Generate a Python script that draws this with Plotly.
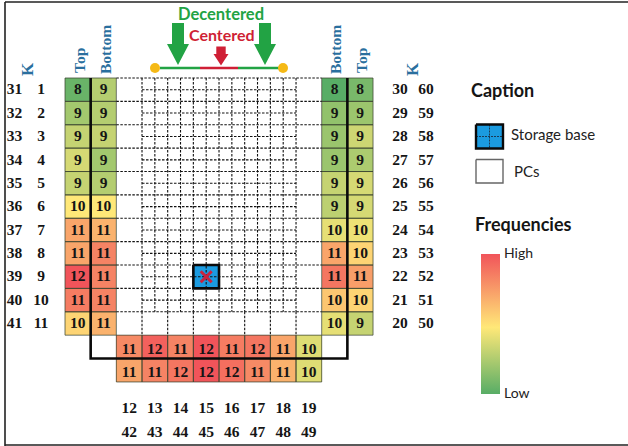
import plotly.graph_objects as go

# ---------- data ----------
top_left_labels = [8, 9, 9, 9, 9, 10, 11, 11, 12, 11, 10]
top_left_scores = [8.2, 8.9, 9.3, 9.5, 9.3, 10.0, 11.0, 11.0, 12.2, 11.6, 10.3]
bottom_left_labels = [9, 9, 9, 9, 9, 10, 11, 11, 11, 11, 11]
bottom_left_scores = [9.1, 9.1, 9.3, 8.9, 9.1, 10.0, 10.8, 11.5, 11.5, 11.5, 10.8]
bottom_right_labels = [8, 9, 9, 9, 9, 9, 10, 11, 11, 10, 10]
bottom_right_scores = [8.0, 8.7, 8.8, 8.8, 9.3, 9.2, 9.7, 11.0, 11.7, 10.5, 9.7]
top_right_labels = [8, 9, 9, 9, 9, 9, 10, 10, 11, 10, 9]
top_right_scores = [8.4, 8.8, 9.4, 9.0, 9.5, 9.5, 9.8, 10.3, 11.1, 10.3, 9.3]
front_upper_labels = [11, 12, 11, 12, 11, 12, 11, 10]
front_upper_scores = [11.4, 12.0, 11.5, 12.2, 11.6, 11.7, 11.0, 9.6]
front_lower_labels = [11, 11, 12, 12, 12, 11, 11, 10]
front_lower_scores = [11.0, 11.5, 11.7, 12.2, 11.8, 11.4, 10.8, 9.6]

k_left_outer = [31, 32, 33, 34, 35, 36, 37, 38, 39, 40, 41]
k_left_inner = [1, 2, 3, 4, 5, 6, 7, 8, 9, 10, 11]
k_right_inner = [30, 29, 28, 27, 26, 25, 24, 23, 22, 21, 20]
k_right_outer = [60, 59, 58, 57, 56, 55, 54, 53, 52, 51, 50]
k_front_upper = [12, 13, 14, 15, 16, 17, 18, 19]
k_front_lower = [42, 43, 44, 45, 46, 47, 48, 49]

# ---------- geometry (px) ----------
W, H = 628, 446
X0, CW, Y0, RH = 65.0, 25.67, 78.0, 23.38
cx = lambda c: X0 + CW * c
ry = lambda r: Y0 + RH * r
N_COLS, N_ROWS = 12, 13
SERIF = "Liberation Serif"
SANS = "Lato"
INK = "#151515"
BLUE = "#1b9be0"
GREEN = "#22a344"
RED = "#cf1f35"

z = [[None] * N_COLS for _ in range(N_ROWS)]
for col, scores in [(0, top_left_scores), (1, bottom_left_scores),
                    (10, bottom_right_scores), (11, top_right_scores)]:
    for r in range(11):
        z[r][col] = scores[r]
for row, scores in [(11, front_upper_scores), (12, front_lower_scores)]:
    for i in range(8):
        z[row][2 + i] = scores[i]

fig = go.Figure()


def segs(segments, color, width, dash="solid"):
    xs, ys = [], []
    for (x1, y1, x2, y2) in segments:
        xs += [x1, x2, None]
        ys += [y1, y2, None]
    fig.add_trace(go.Scatter(x=xs, y=ys, mode="lines", hoverinfo="skip",
                             line=dict(color=color, width=width, dash=dash)))


def poly(points, fill, line=None, width=0):
    xs = [p[0] for p in points] + [points[0][0]]
    ys = [p[1] for p in points] + [points[0][1]]
    fig.add_trace(go.Scatter(x=xs, y=ys, mode="lines", fill="toself", fillcolor=fill,
                             hoverinfo="skip",
                             line=dict(color=line or fill, width=width)))


def rect(x1, y1, x2, y2, fill, line=None, width=0):
    poly([(x1, y1), (x2, y1), (x2, y2), (x1, y2)], fill, line, width)


def labels(xs, ys, texts, size=15.5, color=INK, family=SERIF):
    fig.add_trace(go.Scatter(x=xs, y=ys, text=[str(v) for v in texts], mode="text",
                             hoverinfo="skip", textposition="middle center",
                             textfont=dict(family=family, size=size, color=color, weight="bold")))


def note(x, y, text, size, color=INK, family=SANS, bold=False, angle=0, anchor="center"):
    fig.add_annotation(x=x, y=y, text=f"<b>{text}</b>" if bold else text, showarrow=False,
                       textangle=angle, xanchor=anchor, yanchor="middle", borderpad=0,
                       font=dict(family=family, size=size, color=color))


# heat cells + legend scale
fig.add_trace(go.Heatmap(
    x=[cx(c + 0.5) for c in range(N_COLS)], y=[ry(r + 0.5) for r in range(N_ROWS)],
    z=z, hoverinfo="skip", hoverongaps=False, zmin=8.0, zmax=12.2,
    colorscale=[[0, "#58ad66"], [0.476, "#ffe878"], [1, "#f1545a"]],
    colorbar=dict(x=481 / W, xanchor="left", xpad=0, y=(H - 324) / H, yanchor="middle", ypad=0,
                  thickness=19, thicknessmode="pixels", len=140, lenmode="pixels",
                  outlinewidth=0, showticklabels=False, ticks=""),
))

# thin cell borders
cell_lines = []
for r in range(N_ROWS):
    for c in range(N_COLS):
        if z[r][c] is not None:
            cell_lines += [(cx(c), ry(r), cx(c + 1), ry(r)), (cx(c), ry(r + 1), cx(c + 1), ry(r + 1)),
                           (cx(c), ry(r), cx(c), ry(r + 1)), (cx(c + 1), ry(r), cx(c + 1), ry(r + 1))]
segs(cell_lines, "rgba(60,70,50,0.75)", 1)

# storage base fill under the grid
rect(cx(5), ry(8), cx(6), ry(9), BLUE)

# dashed shelf grid
full_h = [(cx(2), ry(r), cx(10), ry(r)) for r in range(11)]
half_h = [(cx(3), ry(r + 0.5), cx(9), ry(r + 0.5)) for r in range(10)]
half_v = [(cx(3 + i / 2), ry(0), cx(3 + i / 2), ry(10)) for i in range(13)]
full_v = [(cx(3 + i), ry(10), cx(3 + i), ry(11)) for i in range(7)]
segs(full_h + half_h + half_v + full_v, "#111111", 1.1, "2.5px,1.5px")

# storage base outline + marker
poly([(cx(5), ry(8)), (cx(6), ry(8)), (cx(6), ry(9)), (cx(5), ry(9))], "rgba(0,0,0,0)", "#0a0a0a", 2.6)
fig.add_trace(go.Scatter(x=[cx(5.5)], y=[ry(8.5)], mode="markers", hoverinfo="skip",
                         marker=dict(symbol="x-thin", size=11, line=dict(color="#c9243f", width=3))))

# thick divider
fig.add_trace(go.Scatter(x=[cx(1), cx(1), cx(11), cx(11)], y=[ry(0), ry(12), ry(12), ry(0)],
                         mode="lines", hoverinfo="skip", line=dict(color="#0a0a0a", width=2.6)))

# cell values, drawn over the divider
rows_mid = [ry(r + 0.5) + 0.8 for r in range(11)]
labels([cx(0.5)] * 11, rows_mid, top_left_labels)
labels([cx(1.5)] * 11, rows_mid, bottom_left_labels)
labels([cx(10.5)] * 11, rows_mid, bottom_right_labels)
labels([cx(11.5)] * 11, rows_mid, top_right_labels)
fronts = [cx(2.5 + i) for i in range(8)]
labels(fronts, [ry(11.5) + 3.5] * 8, front_upper_labels)
labels(fronts, [ry(12.5) + 2.5] * 8, front_lower_labels)

# K number labels
labels([14.5] * 11, rows_mid, k_left_outer)
labels([41] * 11, rows_mid, k_left_inner)
labels([400] * 11, rows_mid, k_right_inner)
labels([426] * 11, rows_mid, k_right_outer)
labels(fronts, [409] * 8, k_front_upper)
labels(fronts, [433] * 8, k_front_lower)

# column headers
HEAD = "#2a6f9e"
note(27, 69, "K", 17, HEAD, SERIF, True, -90)
note(79, 61, "Top", 15.5, HEAD, SERIF, True, -90)
note(105, 50, "Bottom", 15.5, HEAD, SERIF, True, -90)
note(335, 50, "Bottom", 15.5, HEAD, SERIF, True, -90)
note(361, 61, "Top", 15.5, HEAD, SERIF, True, -90)
note(412, 69, "K", 17, HEAD, SERIF, True, -90)


# aisle arrows
def arrow(xc, half_shaft, half_head, top, neck, tip, color):
    poly([(xc - half_shaft, top), (xc + half_shaft, top), (xc + half_shaft, neck),
          (xc + half_head, neck), (xc, tip), (xc - half_head, neck), (xc - half_shaft, neck)], color)


arrow(178, 6, 11, 23, 44, 65, GREEN)
arrow(265, 6, 11, 23, 44, 65, GREEN)
arrow(221, 4.7, 7.5, 46.5, 54, 65.5, RED)
segs([(160, 68, 200, 68), (238, 68, 279, 68)], GREEN, 2.4)
segs([(200, 68, 238, 68)], RED, 2.4)
fig.add_trace(go.Scatter(x=[155, 283], y=[68, 68], mode="markers", hoverinfo="skip",
                         marker=dict(size=10, color="#f5b916")))
note(220.5, 13.5, "Decentered", 16.5, GREEN, SANS, True)
note(221.5, 34, "Centered", 16, RED, SANS, True)

# caption
note(470, 90, "Caption", 18, INK, SANS, True, anchor="left")
rect(476, 124.5, 503, 148.5, BLUE)
segs([(489.5, 124.5, 489.5, 148.5), (476, 136.5, 503, 136.5)], "#1a3a55", 1, "2px,1px")
poly([(476, 124.5), (503, 124.5), (503, 148.5), (476, 148.5)], "rgba(0,0,0,0)", "#0a0a0a", 2.4)
note(510, 134, "Storage base", 15, "#222222", SANS, anchor="left")
rect(476, 159.5, 503, 183, "#ffffff", "#666666", 1.4)
note(513, 171, "PCs", 15, "#222222", SANS, anchor="left")
note(474, 224, "Frequencies", 18, INK, SANS, True, anchor="left")
note(502.5, 252, "High", 14, "#222222", SANS, anchor="left")
note(502.5, 392, "Low", 14, "#222222", SANS, anchor="left")

# page frame
segs([(5, 446, 5, 2), (5, 2, 628, 2), (5, 445, 628, 445)], "#222222", 1.6)

fig.update_layout(
    width=W, height=H, showlegend=False, paper_bgcolor="white", plot_bgcolor="white",
    margin=dict(l=0, r=0, t=0, b=0, autoexpand=False),
    xaxis=dict(range=[0, W], visible=False, fixedrange=True, constrain="domain"),
    yaxis=dict(range=[H, 0], visible=False, fixedrange=True),
)
fig.write_html("out.html", config={"displayModeBar": False},
               post_script="document.body.style.margin='0';document.body.style.overflow='hidden';")
